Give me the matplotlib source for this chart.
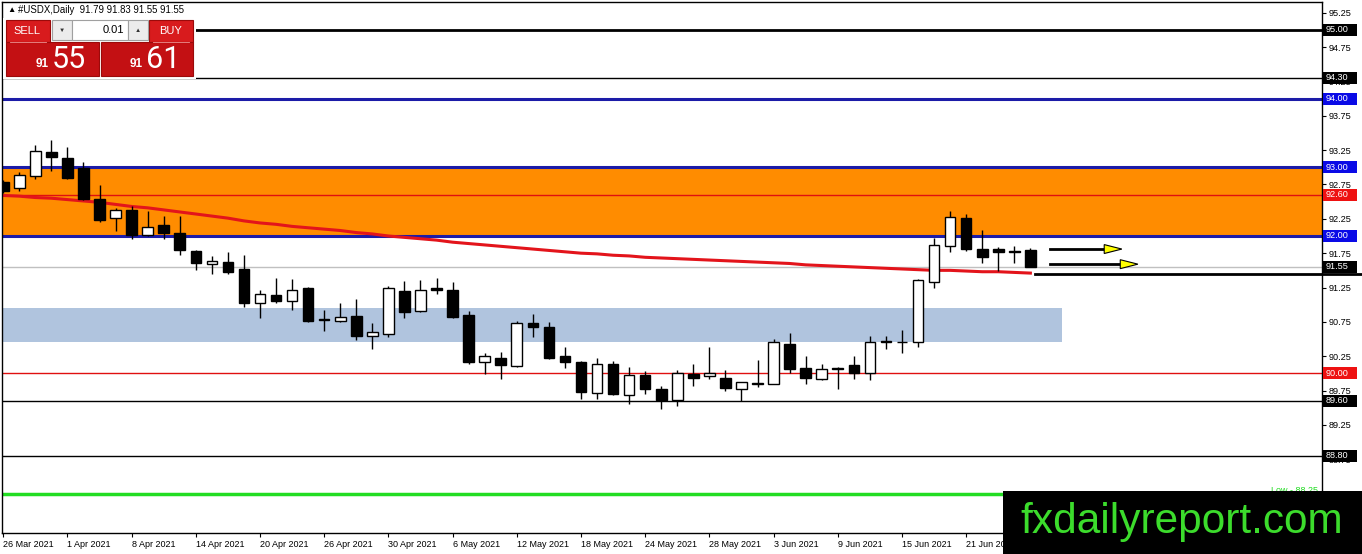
import matplotlib.pyplot as plt
from matplotlib.patches import Rectangle, Polygon

plt.rcParams['font.family'] = ['Liberation Sans', 'DejaVu Sans']

# #USDX daily candles, 26 Mar 2021 .. 25 Jun 2021
opens = [92.78, 92.70, 92.87, 93.22, 93.13, 92.99, 92.54, 92.26, 92.38, 92.02,
         92.16, 92.04, 91.78, 91.59, 91.62, 91.52, 91.03, 91.14, 91.06, 91.24,
         90.79, 90.76, 90.84, 90.55, 90.58, 91.20, 90.91, 91.24, 91.21, 90.85,
         90.16, 90.23, 90.11, 90.73, 90.67, 90.26, 90.17, 89.71, 90.13, 89.69,
         89.97, 89.78, 89.61, 89.99, 89.96, 89.94, 89.78, 89.85, 89.85, 90.43,
         90.08, 89.92, 90.07, 90.12, 90.01, 90.46, 90.45, 90.45, 91.33, 91.86,
         92.26, 91.81, 91.81, 91.77, 91.79]
highs = [92.82, 92.93, 93.32, 93.40, 93.30, 93.07, 92.74, 92.41, 92.44, 92.36,
         92.29, 92.29, 91.80, 91.71, 91.76, 91.72, 91.22, 91.39, 91.37, 91.26,
         90.93, 91.03, 91.08, 90.74, 91.27, 91.35, 91.36, 91.39, 91.33, 90.91,
         90.30, 90.31, 90.76, 90.86, 90.75, 90.38, 90.18, 90.23, 90.18, 90.10,
         90.04, 89.82, 90.05, 90.13, 90.39, 90.05, 89.88, 90.20, 90.50, 90.59,
         90.25, 90.13, 90.10, 90.26, 90.55, 90.55, 90.63, 91.37, 91.97, 92.36,
         92.32, 92.09, 91.84, 91.86, 91.83]
lows = [92.62, 92.66, 92.83, 92.94, 92.83, 92.52, 92.21, 92.08, 91.95, 92.00,
        91.96, 91.73, 91.51, 91.45, 91.45, 90.97, 90.81, 91.03, 90.93, 90.75,
        90.62, 90.75, 90.49, 90.36, 90.53, 90.81, 90.89, 91.16, 90.81, 90.14,
        89.99, 89.92, 90.09, 90.53, 90.21, 90.08, 89.63, 89.63, 89.68, 89.56,
        89.70, 89.48, 89.52, 89.82, 89.92, 89.75, 89.60, 89.80, 89.84, 90.00,
        89.85, 89.91, 89.78, 89.92, 89.91, 90.36, 90.29, 90.38, 91.25, 91.76,
        91.78, 91.60, 91.49, 91.60, 91.55]
closes = [92.66, 92.89, 93.24, 93.15, 92.85, 92.54, 92.23, 92.38, 92.02, 92.13,
          92.05, 91.79, 91.60, 91.64, 91.48, 91.03, 91.15, 91.06, 91.22, 90.77,
          90.78, 90.82, 90.54, 90.60, 91.25, 90.90, 91.22, 91.22, 90.82, 90.17,
          90.26, 90.12, 90.74, 90.68, 90.23, 90.17, 89.73, 90.14, 89.70, 89.98,
          89.78, 89.62, 90.00, 89.94, 90.01, 89.79, 89.87, 89.86, 90.45, 90.07,
          89.94, 90.07, 90.07, 90.00, 90.45, 90.46, 90.46, 91.36, 91.87, 92.27,
          91.81, 91.69, 91.77, 91.77, 91.55]

# red moving average
ma_line = [92.59, 92.58, 92.56, 92.55, 92.53, 92.51, 92.49, 92.46, 92.43, 92.41,
           92.38, 92.35, 92.32, 92.29, 92.26, 92.22, 92.19, 92.17, 92.14, 92.12,
           92.10, 92.08, 92.05, 92.03, 92.00, 91.98, 91.96, 91.94, 91.91, 91.89,
           91.87, 91.85, 91.83, 91.81, 91.79, 91.77, 91.75, 91.74, 91.72, 91.71,
           91.69, 91.68, 91.67, 91.66, 91.65, 91.64, 91.63, 91.62, 91.61, 91.60,
           91.58, 91.57, 91.56, 91.55, 91.54, 91.53, 91.52, 91.51, 91.50, 91.50,
           91.49, 91.48, 91.48, 91.47, 91.46]

date_labels = ['26 Mar 2021', '1 Apr 2021', '8 Apr 2021', '14 Apr 2021',
               '20 Apr 2021', '26 Apr 2021', '30 Apr 2021', '6 May 2021',
               '12 May 2021', '18 May 2021', '24 May 2021', '28 May 2021',
               '3 Jun 2021', '9 Jun 2021', '15 Jun 2021', '21 Jun 2021']
date_step = 4

price_ticks = [88.75, 89.25, 89.75, 90.25, 90.75, 91.25, 91.75, 92.25,
               92.75, 93.25, 93.75, 94.25, 94.75, 95.25]

# horizontal levels: price, line colour, width, label box colour
levels = [95.00, 94.30, 94.00, 93.00, 92.60, 92.00, 91.55, 90.00, 89.60, 88.80]
level_line_colors = ['black', 'black', '#1c1ca8', '#1c1ca8', '#e01010',
                     '#1c1ca8', '#c0c0c0', '#e01010', 'black', 'black']
level_widths = [2, 1, 2.2, 2.2, 1, 2.2, 1, 1, 1, 1]
level_box_colors = ['black', 'black', '#0a0ae6', '#0a0ae6', '#ee1111',
                    '#0a0ae6', 'black', '#ee1111', 'black', 'black']

low_level = 88.25
trend_level = 91.45
orange_zone = (92.00, 93.00)
blue_zone = (90.45, 90.95)
blue_zone_end = 66.0
# arrows: price, start bar, tip bar
arrows = [(91.81, 65.2, 69.7), (91.59, 65.2, 70.7)]

W, H = 1362, 554
fig = plt.figure(figsize=(W / 100, H / 100), dpi=100)
ax = fig.add_axes([2 / W, 21 / H, 1320 / W, 531 / H])

n = len(opens)
idx = list(range(n))

ax.axhspan(orange_zone[0], orange_zone[1], color='#ff8c00', lw=0, zorder=0.5)
ax.add_patch(Rectangle((-5, blue_zone[0]), blue_zone_end + 5, blue_zone[1] - blue_zone[0],
                       fc='#b0c4de', ec='none', zorder=0.6))

for p, c, lw in zip(levels, level_line_colors, level_widths):
    ax.axhline(p, color=c, lw=lw, zorder=1)
ax.axhline(low_level, color='#22dd22', lw=2.5, zorder=1)
ax.text(79.0, low_level + 0.045, 'Low - 88.25', color='#22dd22', fontsize=6.5,
        ha='left', va='center', zorder=1)

ax.plot(idx, ma_line, color='#e3141b', lw=2.2, zorder=2)

# candles
ax.vlines(idx, lows, highs, color='black', lw=1, zorder=3)
for i in idx:
    o, c = opens[i], closes[i]
    bottom = min(o, c)
    height = max(abs(c - o), 0.012)
    face = 'white' if c > o else 'black'
    ax.bar(i, height, width=0.66, bottom=bottom, color=face, edgecolor='black',
           linewidth=1, zorder=4)

# trend line segment at the right
ax.plot([n - 0.7, n + 21], [trend_level, trend_level], color='black', lw=2,
        zorder=5, clip_on=False)

# arrows
for p, x0, x1 in arrows:
    ax.plot([x0, x1 - 1.05], [p, p], color='black', lw=2, zorder=5)
    ax.add_patch(Polygon([(x1 - 1.1, p + 0.065), (x1 - 1.1, p - 0.065), (x1, p)],
                         closed=True, fc='#ffff00', ec='black', lw=0.8, zorder=6))

ax.set_xlim(-0.075, 82.17)
ax.set_ylim(87.677, 95.406)

ax.yaxis.tick_right()
ax.set_yticks(price_ticks)
ax.set_yticklabels([f'{t:.2f}' for t in price_ticks])
ax.tick_params(axis='y', direction='out', length=3, labelsize=6.6, pad=2)

ax.set_xticks([i * date_step for i in range(len(date_labels))])
ax.set_xticklabels(date_labels)
for lab in ax.get_xticklabels():
    lab.set_horizontalalignment('left')
ax.tick_params(axis='x', direction='out', length=3, labelsize=6.5, pad=2)

for s in ax.spines.values():
    s.set_color('black')
    s.set_linewidth(1)

# price labels on the right axis
tr = ax.get_yaxis_transform()
box_h = 12 / 68.7
for p, bc in zip(levels, level_box_colors):
    ax.add_patch(Rectangle((1.0 + 1 / 1320, p - box_h / 2), 34 / 1320, box_h,
                           transform=tr, fc=bc, ec='none', clip_on=False, zorder=20))
    ax.text(1.0 + 4 / 1320, p, f'{p:.2f}', transform=tr, color='white',
            fontsize=6.6, ha='left', va='center', clip_on=False, zorder=21)

# overlay in pixel coordinates: trade panel, header, logo
ov = fig.add_axes([0, 0, 1, 1])
ov.set_xlim(0, W)
ov.set_ylim(H, 0)
ov.axis('off')

ov.text(7, 10, '\u25b2', fontsize=6, ha='left', va='center')
ov.text(18, 10, '#USDX,Daily  91.79 91.83 91.55 91.55', fontsize=6.9,
        ha='left', va='center')

ov.add_patch(Rectangle((3, 18), 193, 61, fc='white', ec='none'))
red_top = '#d81b1d'
red_low = '#c31013'
ov.add_patch(Rectangle((6, 20), 44, 22, fc=red_top, ec='#9b0a0a', lw=0.8))
ov.add_patch(Rectangle((149, 20), 44, 22, fc=red_top, ec='#9b0a0a', lw=0.8))
ov.add_patch(Rectangle((52, 20), 20, 20, fc='#ececec', ec='#a0a0a0', lw=0.8))
ov.add_patch(Rectangle((72, 20), 56, 20, fc='white', ec='#a0a0a0', lw=0.8))
ov.add_patch(Rectangle((128, 20), 20, 20, fc='#ececec', ec='#a0a0a0', lw=0.8))
ov.add_patch(Rectangle((6, 42), 93, 34, fc=red_low, ec='#9b0a0a', lw=0.8))
ov.add_patch(Rectangle((101, 42), 92, 34, fc=red_low, ec='#9b0a0a', lw=0.8))
ov.plot([10, 46], [41.5, 41.5], color='#f29090', lw=0.6)
ov.plot([153, 189], [41.5, 41.5], color='#f29090', lw=0.6)

ov.text(27, 31, 'SELL', color='white', fontsize=8, ha='center', va='center')
ov.text(171, 31, 'BUY', color='white', fontsize=8, ha='center', va='center')
ov.text(124, 30, '0.01', color='black', fontsize=8, ha='right', va='center')
ov.text(62, 30, '\u25bc', color='#333333', fontsize=4.5, ha='center', va='center')
ov.text(138, 30, '\u25b2', color='#333333', fontsize=4.5, ha='center', va='center')
ov.text(42, 64, '91', color='white', fontsize=8.5, fontweight='bold', ha='center', va='center')
ov.text(52, 59, '55', color='white', fontsize=22, family='Roboto', ha='left', va='center')
ov.text(136, 64, '91', color='white', fontsize=8.5, fontweight='bold', ha='center', va='center')
ov.text(146, 59, '61', color='white', fontsize=22, family='Roboto', ha='left', va='center')

ov.add_patch(Rectangle((1003, 491), W - 1003, H - 491, fc='black', ec='none'))
ov.text(1020, 533, 'fxdailyreport.com', color='#3cdc2c', fontsize=30.5,
        ha='left', va='baseline')

fig.savefig('out.png', dpi=100)
